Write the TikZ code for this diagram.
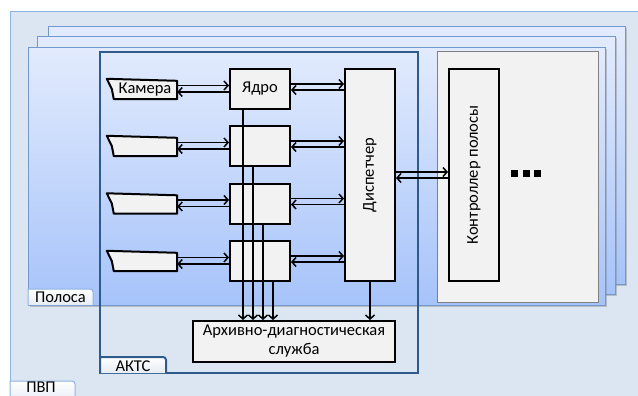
\documentclass[tikz,border=0pt]{standalone}
\usepackage{fontspec}
\setmainfont{Carlito}
\usepackage{graphicx}
\usetikzlibrary{arrows.meta,positioning,shadows}
\definecolor{pvpfill}{HTML}{DCE6F2}
\definecolor{pvpline}{HTML}{8DB3E2}
\definecolor{layertop}{HTML}{E2EBFD}
\definecolor{layerbottom}{HTML}{A6C3FA}
\definecolor{layerline}{HTML}{7398CB}
\definecolor{aktsline}{HTML}{2F5B8C}
\definecolor{boxgray}{HTML}{F2F2F2}
\definecolor{tabgray}{HTML}{E6ECF4}
\tikzset{
    block/.style={
    rectangle,draw=black,line width=2pt,fill=boxgray,inner sep=0pt
    },
    core/.style={
    block,minimum width=60pt,minimum height=40pt
    },
    tall/.style={
    block,minimum width=50pt,minimum height=212pt
    },
    camera/.style={
    rectangle,inner sep=0pt,minimum width=64pt,minimum height=20pt
    },
    camshape/.style={
    draw=black,line width=2pt,fill=boxgray,line join=round
    },
    layer/.style={
    draw=layerline,line width=1pt,top color=layertop,bottom color=layerbottom,
    drop shadow={shadow xshift=1.5pt,shadow yshift=-1.5pt,opacity=0.4}
    },
    tabtext/.style={
    inner sep=0pt
    },
    link/.style={
    ->,line width=1.5pt
    },
}

\begin{document}
\begin{tikzpicture}[x=1pt, y=-1pt, on grid, >={Straight Barb[length=4pt,width=9pt]},
    font=\fontsize{16.5}{19}\selectfont]
   \useasboundingbox (0,0) rectangle (638,396);
   \clip (0,0) rectangle (638,396);
   %pvp
   \draw[pvpline,fill=pvpfill,line width=1pt] (10,12) rectangle (660,420);
   \draw[pvpline,line width=1pt,top color=white,bottom color=tabgray] (10,402) |- (72,381)
      arc[start angle=90,end angle=0,radius=3pt] -- (75,402);
   \node[tabtext] (pvptab) at (41,387.5) {ПВП};
   %polosa layers
   \draw[layer] (48,27) rectangle (625,284);
   \draw[layer] (37,37) rectangle (615,294);
   \draw[layer] (28,48) rectangle (605,305);
   \draw[pvpline,line width=1pt,top color=white,bottom color=tabgray] (28,305) |- (90,289)
      arc[start angle=90,end angle=0,radius=3pt] -- (93,305);
   \node[tabtext] (poltab) at (60.5,297.5) {Полоса};
   %host of controller
   \draw[gray,line width=1pt,fill=boxgray] (437,52) rectangle (598,302);
   %akts
   \draw[aktsline,line width=2pt] (100,52) rectangle (418,373);
   \draw[aktsline,line width=2pt,top color=white,bottom color=tabgray] (100,373) |- (163,357)
      arc[start angle=90,end angle=0,radius=3pt] -- (166,373);
   \node[tabtext] (aktstab) at (133,366) {АКТС};
   %cores
   \node[core] (core1) at (260,89) {Ядро};
   \node[core] (core2) [below = 57pt of core1] {};
   \node[core] (core3) [below = 57.5pt of core2] {};
   \node[core] (core4) [below = 57.5pt of core3] {};
   %cameras
   \node[camera] (cam1) [left = 115pt of core1] {};
   \node[camera] (cam2) [left = 115pt of core2] {};
   \node[camera] (cam3) [left = 115pt of core3] {};
   \node[camera] (cam4) [left = 115pt of core4] {};
   \draw[camshape] ([xshift=-6pt]cam1.north west) -- ([yshift=-2pt]cam1.north east) -- (cam1.south east)
      -- ([xshift=1pt]cam1.south west) -- ([xshift=-1pt]cam1.west) -- cycle;
   \draw[camshape] ([xshift=-6pt]cam2.north west) -- ([yshift=-2pt]cam2.north east) -- (cam2.south east)
      -- ([xshift=1pt]cam2.south west) -- ([xshift=-1pt]cam2.west) -- cycle;
   \draw[camshape] ([xshift=-6pt]cam3.north west) -- ([yshift=-2pt]cam3.north east) -- (cam3.south east)
      -- ([xshift=1pt]cam3.south west) -- ([xshift=-1pt]cam3.west) -- cycle;
   \draw[camshape] ([xshift=-6pt]cam4.north west) -- ([yshift=-2pt]cam4.north east) -- (cam4.south east)
      -- ([xshift=1pt]cam4.south west) -- ([xshift=-1pt]cam4.west) -- cycle;
   \node[tabtext] (cam1text) at ([yshift=-1pt]cam1.center) {Камера};
   %dispatcher
   \node[tall] (disp) at (370,175) {\rotatebox{90}{Диспетчер}};
   %controller
   \node[tall] (ctrl) [right = 104pt of disp] {\rotatebox{90}{Контроллер полосы}};
   \foreach \x in {511,522.5,534}
      \fill (\x,170) rectangle ++(7,7);
   %archive
   \node[block,minimum width=202pt,minimum height=41pt,align=center,
      font=\fontsize{16.5}{19}\selectfont] (arch) at (294,341.5)
      {Архивно-диагностическая\\служба};

   \path[link]
   %cameras
    ([yshift=3.5pt]cam1.east) edge ([yshift=3.5pt]core1.west)
    ([yshift=-3pt]core1.west) edge ([yshift=-3pt]cam1.east)
    ([yshift=3.5pt]cam2.east) edge ([yshift=3.5pt]core2.west)
    ([yshift=-3pt]core2.west) edge ([yshift=-3pt]cam2.east)
    ([yshift=3.5pt]cam3.east) edge ([yshift=3.5pt]core3.west)
    ([yshift=-3pt]core3.west) edge ([yshift=-3pt]cam3.east)
    ([yshift=3.5pt]cam4.east) edge ([yshift=3.5pt]core4.west)
    ([yshift=-3pt]core4.west) edge ([yshift=-3pt]cam4.east)
   %dispatcher
    ([yshift=5pt]core1.east) edge ([yshift=5pt]core1.east -| disp.west)
    ([yshift=-1pt]core1.east -| disp.west) edge ([yshift=-1pt]core1.east)
    ([yshift=5pt]core2.east) edge ([yshift=5pt]core2.east -| disp.west)
    ([yshift=-1pt]core2.east -| disp.west) edge ([yshift=-1pt]core2.east)
    ([yshift=5pt]core3.east) edge ([yshift=5pt]core3.east -| disp.west)
    ([yshift=-1pt]core3.east -| disp.west) edge ([yshift=-1pt]core3.east)
    ([yshift=5pt]core4.east) edge ([yshift=5pt]core4.east -| disp.west)
    ([yshift=-1pt]core4.east -| disp.west) edge ([yshift=-1pt]core4.east)
   %controller
    ([yshift=3pt]disp.east) edge ([yshift=3pt]ctrl.west)
    ([yshift=-3pt]ctrl.west) edge ([yshift=-3pt]disp.east)
   %archive
    ([xshift=14pt]core1.south west) edge ([xshift=14pt]core1.south west |- arch.north)
    ([xshift=24pt]core2.south west) edge ([xshift=24pt]core2.south west |- arch.north)
    ([xshift=34pt]core3.south west) edge ([xshift=34pt]core3.south west |- arch.north)
    ([xshift=44pt]core4.south west) edge ([xshift=44pt]core4.south west |- arch.north)
    (disp.south) edge (disp.south |- arch.north)
   ;
\end{tikzpicture}
\end{document}
